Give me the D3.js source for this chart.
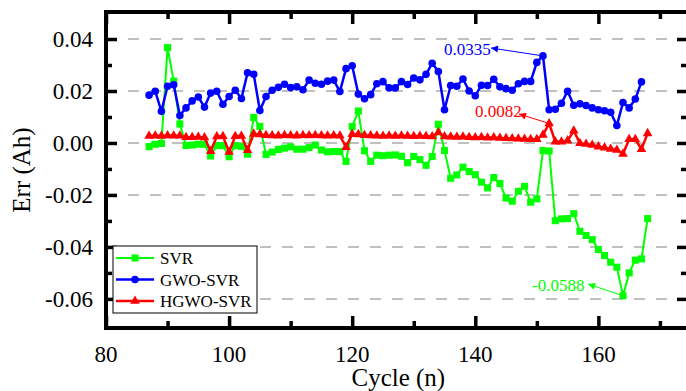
<!DOCTYPE html>
<html lang="en">
<head>
    <meta charset="utf-8">
    <title>Err vs Cycle</title>
    <script src="https://d3js.org/d3.v7.min.js" charset="utf-8"></script>
    <style type="text/css">
        body { margin: 0; background: white; }
        svg text { font-family: "Liberation Serif", "Times New Roman", serif; }
        .grid line { stroke: #c0c0c0; stroke-width: 2; stroke-dasharray: 11,11; }
    </style>
</head>
<body>
<div id="main"></div>
<script type="text/javascript">
// cycles for each series
var cycles = d3.range(87, 169);          // SVR and HGWO-SVR: 87..168
var cyclesGwo = d3.range(87, 168);       // GWO-SVR: 87..167

var svr = [-0.0014,-0.0005,-0.0002,0.0367,0.0238,0.0073,-0.0010,-0.0008,-0.0005,-0.0005,
    -0.0050,-0.0010,-0.0010,-0.0053,-0.0010,-0.0013,-0.0043,0.0098,0.0064,-0.0044,
    -0.0035,-0.0025,-0.0020,-0.0015,-0.0024,-0.0024,-0.0018,-0.0008,-0.0027,-0.0034,
    -0.0033,-0.0033,-0.0071,0.0063,0.0123,-0.0030,-0.0071,-0.0047,-0.0049,-0.0047,
    -0.0046,-0.0051,-0.0076,-0.0052,-0.0064,-0.0086,-0.0052,0.0072,-0.0029,-0.0136,
    -0.0123,-0.0093,-0.0110,-0.0122,-0.0151,-0.0173,-0.0133,-0.0156,-0.0212,-0.0224,
    -0.0186,-0.0167,-0.0228,-0.0215,-0.0029,-0.0031,-0.0299,-0.0292,-0.0291,-0.0272,
    -0.0340,-0.0356,-0.0372,-0.0410,-0.0433,-0.0459,-0.0478,-0.0588,-0.0500,-0.0451,
    -0.0446,-0.0291];

var gwoSvr = [0.0184,0.0199,0.0122,0.0218,0.0224,0.0106,0.0135,0.0162,0.0177,0.0138,
    0.0192,0.0199,0.0149,0.0179,0.0203,0.0171,0.0270,0.0264,0.0125,0.0179,
    0.0203,0.0214,0.0226,0.0213,0.0216,0.0205,0.0242,0.0230,0.0226,0.0238,
    0.0242,0.0198,0.0286,0.0297,0.0188,0.0170,0.0186,0.0228,0.0236,0.0212,
    0.0212,0.0236,0.0225,0.0250,0.0243,0.0264,0.0307,0.0275,0.0128,0.0221,
    0.0218,0.0246,0.0200,0.0182,0.0222,0.0221,0.0245,0.0216,0.0209,0.0203,
    0.0228,0.0237,0.0237,0.0310,0.0335,0.0128,0.0130,0.0153,0.0199,0.0145,
    0.0151,0.0144,0.0135,0.0128,0.0124,0.0118,0.0067,0.0156,0.0135,0.0169,
    0.0235];

var hgwoSvr = [0.0027,0.0028,0.0027,0.0029,0.0028,0.0028,0.0022,0.0022,0.0023,0.0021,
    -0.0032,0.0025,0.0026,-0.0035,0.0026,0.0027,-0.0028,0.0035,0.0033,0.0030,
    0.0029,0.0028,0.0030,0.0029,0.0028,0.0030,0.0029,0.0030,0.0029,0.0028,
    0.0029,0.0028,-0.0016,0.0034,0.0033,0.0030,0.0029,0.0028,0.0027,0.0028,
    0.0027,0.0028,0.0027,0.0026,0.0027,0.0026,0.0025,0.0040,0.0025,0.0024,
    0.0023,0.0024,0.0022,0.0021,0.0022,0.0020,0.0021,0.0019,0.0018,0.0017,
    0.0016,0.0015,0.0014,0.0014,0.0031,0.0075,0.0005,0.0005,0.0009,0.0047,
    -0.0001,-0.0004,-0.0008,-0.0014,-0.0018,-0.0023,-0.0027,-0.0042,0.0014,0.0014,
    -0.0024,0.0037];

var xMajor = [80, 100, 120, 140, 160];
var xMinor = [90, 110, 130, 150, 170];
var yMajor = [0.04, 0.02, 0.00, -0.02, -0.04, -0.06];
var yMinor = [0.03, 0.01, -0.01, -0.03, -0.05];
var seriesNames = ["SVR", "GWO-SVR", "HGWO-SVR"];
var seriesColors = ["#00ff00", "#0000ff", "#ff0000"];

var width = 686, height = 391;
var pLeft = 106, pRight = 690.7, pTop = 12, pBottom = 328;

var svg = d3.select("div#main").append("svg")
    .attr("width", width).attr("height", height);

var x = d3.scaleLinear().domain([80, 175]).range([pLeft, pRight]);
var y = d3.scaleLinear().domain([-0.0712, 0.0504]).range([pBottom, pTop]);

// dashed grid
svg.append("g").attr("class", "grid").selectAll("line")
    .data(yMajor).enter().append("line")
    .attr("x1", pLeft).attr("x2", pRight)
    .attr("y1", function(d){ return y(d) }).attr("y2", function(d){ return y(d) });

// ticks (pointing inward)
function ax(gen, vals, size, ty) {
    var g = svg.append("g").attr("transform", ty)
        .call(gen.tickValues(vals).tickSize(size).tickFormat(""));
    g.select(".domain").remove();
    g.selectAll(".tick line").attr("stroke", "black").attr("stroke-width", 3.5);
    return g;
}
ax(d3.axisBottom(x), xMajor, -12, "translate(0," + pBottom + ")");
ax(d3.axisBottom(x), xMinor, -7, "translate(0," + pBottom + ")");
ax(d3.axisTop(x), xMajor, -12, "translate(0," + pTop + ")");
ax(d3.axisTop(x), xMinor, -7, "translate(0," + pTop + ")");
ax(d3.axisLeft(y), yMajor, -11, "translate(" + pLeft + ",0)");
ax(d3.axisLeft(y), yMinor, -6, "translate(" + pLeft + ",0)");
ax(d3.axisRight(y), yMajor, -9, "translate(" + (width) + ",0)");
ax(d3.axisRight(y), yMinor, -5, "translate(" + (width) + ",0)");

// frame
svg.append("rect")
    .attr("x", pLeft).attr("y", pTop)
    .attr("width", pRight - pLeft).attr("height", pBottom - pTop)
    .attr("fill", "none").attr("stroke", "black").attr("stroke-width", 4);

// tick labels
svg.append("g").selectAll("text").data(xMajor).enter().append("text")
    .attr("x", function(d){ return x(d) }).attr("y", 362)
    .attr("text-anchor", "middle").attr("font-size", 23)
    .text(function(d){ return d });
svg.append("g").selectAll("text").data(yMajor).enter().append("text")
    .attr("x", 93).attr("y", function(d){ return y(d) + 8 })
    .attr("text-anchor", "end").attr("font-size", 23)
    .text(function(d){ return d3.format(".2f")(d).replace("−", "-") });

// axis titles
svg.append("text").attr("x", (pLeft + pRight) / 2).attr("y", 386)
    .attr("text-anchor", "middle").attr("font-size", 25).text("Cycle (n)");
svg.append("text").attr("transform", "translate(30,170) rotate(-90)")
    .attr("text-anchor", "middle").attr("font-size", 25).text("Err (Ah)");

// series
var plot = svg.append("g");
var tri = d3.symbol().type(d3.symbolTriangle).size(40);
var sq = d3.symbol().type(d3.symbolSquare).size(50);

function drawSeries(xs, vals, color, lw, marker) {
    var pts = xs.map(function(c, i){ return [c, vals[i]] });
    plot.append("path").datum(pts)
        .attr("fill", "none").attr("stroke", color).attr("stroke-width", lw)
        .attr("d", d3.line().x(function(d){ return x(d[0]) }).y(function(d){ return y(d[1]) }));
    var m = plot.append("g").selectAll("path").data(pts).enter();
    if (marker == "circle") {
        m.append("circle").attr("r", 3.8).attr("fill", color)
            .attr("cx", function(d){ return x(d[0]) }).attr("cy", function(d){ return y(d[1]) });
    } else {
        m.append("path").attr("fill", color)
            .attr("d", marker == "square" ? sq : tri)
            .attr("transform", function(d){ return "translate(" + x(d[0]) + "," + y(d[1]) + ")" });
    }
}
drawSeries(cycles, svr, seriesColors[0], 2, "square");
drawSeries(cyclesGwo, gwoSvr, seriesColors[1], 2.5, "circle");
drawSeries(cycles, hgwoSvr, seriesColors[2], 2.5, "triangle");

// annotations
var defs = svg.append("defs");
seriesColors.forEach(function(c, i){
    defs.append("marker").attr("id", "arr" + i)
        .attr("viewBox", "0 0 10 10").attr("refX", 10).attr("refY", 5)
        .attr("markerWidth", 14).attr("markerHeight", 7).attr("markerUnits", "userSpaceOnUse")
        .attr("orient", "auto")
        .append("path").attr("d", "M0,0 L10,5 L0,10 Z").attr("fill", c);
});
function note(cx, v, tx, ty, lx, ly, label, ci) {
    svg.append("line")
        .attr("x1", x(cx)).attr("y1", y(v)).attr("x2", lx).attr("y2", ly)
        .attr("stroke", seriesColors[ci]).attr("stroke-width", 1)
        .attr("marker-end", "url(#arr" + ci + ")");
    svg.append("text").attr("x", tx).attr("y", ty)
        .attr("font-size", 17).attr("fill", seriesColors[ci]).text(label);
}
note(151, 0.0335, 444, 55, 491, 48, "0.0335", 1);
note(152, 0.0075, 475, 117, 519, 114, "0.0082", 2);
note(164, -0.0588, 532, 291, 588, 284, "-0.0588", 0);

// legend
var lg = svg.append("g");
lg.append("rect").attr("x", 113).attr("y", 246).attr("width", 144).attr("height", 67)
    .attr("fill", "white").attr("stroke", "black").attr("stroke-width", 1);
seriesNames.forEach(function(n, i){
    var yy = 258 + i * 21.5;
    lg.append("line").attr("x1", 116).attr("x2", 154).attr("y1", yy).attr("y2", yy)
        .attr("stroke", seriesColors[i]).attr("stroke-width", i == 0 ? 2 : 2.5);
    if (i == 1) {
        lg.append("circle").attr("cx", 135).attr("cy", yy).attr("r", 3.8).attr("fill", seriesColors[i]);
    } else {
        lg.append("path").attr("d", i == 0 ? sq : tri).attr("fill", seriesColors[i])
            .attr("transform", "translate(135," + yy + ")");
    }
    lg.append("text").attr("x", 160).attr("y", yy + 6).attr("font-size", 17).text(n);
});
</script>
</body>
</html>
